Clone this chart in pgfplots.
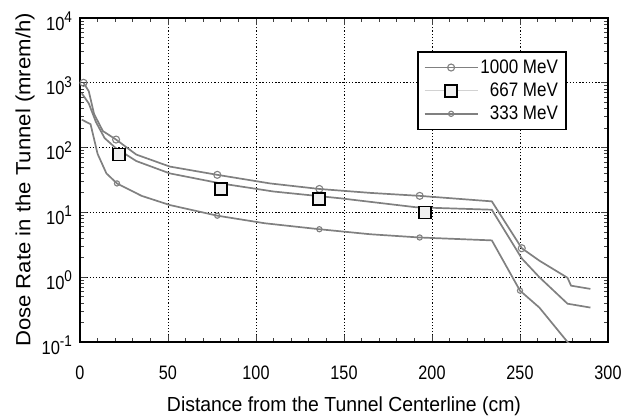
\documentclass[border=0pt]{standalone}
\usepackage{pgfplots}
\pgfplotsset{compat=1.18}
\usepackage{fontspec}
\setmainfont{Liberation Sans}

% tick label helpers
\newcommand{\ytl}[1]{\fontsize{16.5}{19}\selectfont\scalebox{1}[1.15]{10\raisebox{0.4em}{\fontsize{13.5}{14}\selectfont #1}}}
\newcommand{\lgd}[1]{\scalebox{1}[1.15]{#1}}

% legend images: a longer line with one centred marker
\pgfplotsset{
  long legend/.style={
    legend image code/.code={%
      \draw[##1, mark indices={2}] plot coordinates {(0pt,0pt) (26.5pt,0pt) (53pt,0pt)};}},
  square legend/.style={
    legend image code/.code={%
      \draw[gray!35, line width=1.2pt] (0pt,0pt) -- (53pt,0pt);
      \draw[##1, mark indices={2}] plot coordinates {(0pt,0pt) (26.5pt,0pt) (53pt,0pt)};}},
}

\begin{document}
\begin{tikzpicture}
\useasboundingbox (-80pt,-76pt) rectangle (546pt,342pt);
\begin{axis}[
  at={(0pt,0pt)}, anchor=south west,
  scale only axis, width=528pt, height=324pt,
  ymode=log,
  xmin=0, xmax=300, ymin=0.1, ymax=10000,
  xtick={0,50,...,300}, minor x tick num=4,
  ytick={0.1,1,10,100,1000,10000},
  yticklabels={\ytl{-1},\ytl{0},\ytl{1},\ytl{2},\ytl{3},\ytl{4}},
  xticklabel={\scalebox{1}[1.2]{\pgfmathprintnumber{\tick}}},
  /pgf/number format/assume math mode=true,
  tick label style={font=\fontsize{16.2}{19}\selectfont},
  xticklabel style={anchor=base, yshift=-37pt},
  yticklabel style={anchor=base east, xshift=-4.5pt, yshift=-12pt},
  grid=major,
  major grid style={black, line width=1pt, dash pattern=on 1.3pt off 1.9pt},
  axis line style={black, line width=1.3pt},
  tick style={black!75, line width=0.8pt},
  tick align=inside,
  major tick length=7pt, minor tick length=4pt,
  xlabel={\scalebox{1}[1.05]{Distance from the Tunnel Centerline (cm)}},
  ylabel={\scalebox{1.08}[1]{Dose Rate in the Tunnel (mrem/h)}},
  xlabel style={font=\fontsize{19.4}{23}\selectfont,
    at={(axis description cs:0.5,-0.213)}, anchor=base},
  ylabel style={font=\fontsize{20.5}{24}\selectfont,
    at={(axis description cs:-0.104,0.5)}, anchor=center},
  legend cell align=right,
  legend style={at={(rel axis cs:0.638,0.898)}, anchor=north west,
    draw=black, line width=1.8pt, inner xsep=6pt, inner ysep=6pt,
    font=\fontsize{17}{20}\selectfont, row sep=4pt},
  long legend,
]
% 1000 MeV
\addplot[gray, line width=1.7pt, mark=o, mark size=3.5pt,
  mark options={solid, gray, line width=1.1pt}, mark indices={1,5,8,10,12,14}]
coordinates {
 (2,1000) (5,740) (8,330) (13,180) (20.5,133) (32,78) (51,51) (78,38)
 (108,28) (136,23) (165,20) (193,18) (234,14.8) (251,2.8) (261,1.8)
 (277,0.98) (279,0.74) (290,0.66)
};
\addlegendentry{\lgd{1000 MeV}}
% 667 MeV markers
\addplot[only marks, mark=square*, mark size=6pt,
  mark options={draw=black, fill=gray!12, line width=1.8pt}, square legend]
coordinates {(22,78) (80,23) (136,16) (196,10)};
\addlegendentry{\lgd{667 MeV}}
% 333 MeV
\addplot[gray, line width=1.7pt, mark=o, mark size=2.6pt,
  mark options={solid, gray, line width=1.1pt}, mark indices={5,8,10,12,14}]
coordinates {
 (1,270) (6,230) (10,80) (15,40) (21,28) (35,18) (51,13) (78,8.9)
 (105,6.8) (136,5.5) (165,4.6) (193,4.1) (234,3.7) (250,0.62) (261,0.34)
 (277,0.1) (290,0.05)
};
\addlegendentry{\lgd{333 MeV}}
% 667 MeV line
\addplot[gray, line width=1.7pt, forget plot]
coordinates {
 (1,690) (5,480) (9,250) (14,140) (20,100) (32,62) (51,40) (80,28)
 (110,21) (148,16.5) (191,12) (234,11) (251,1.95) (261,1.0) (277,0.39)
 (290,0.34)
};
\end{axis}
\end{tikzpicture}
\end{document}
